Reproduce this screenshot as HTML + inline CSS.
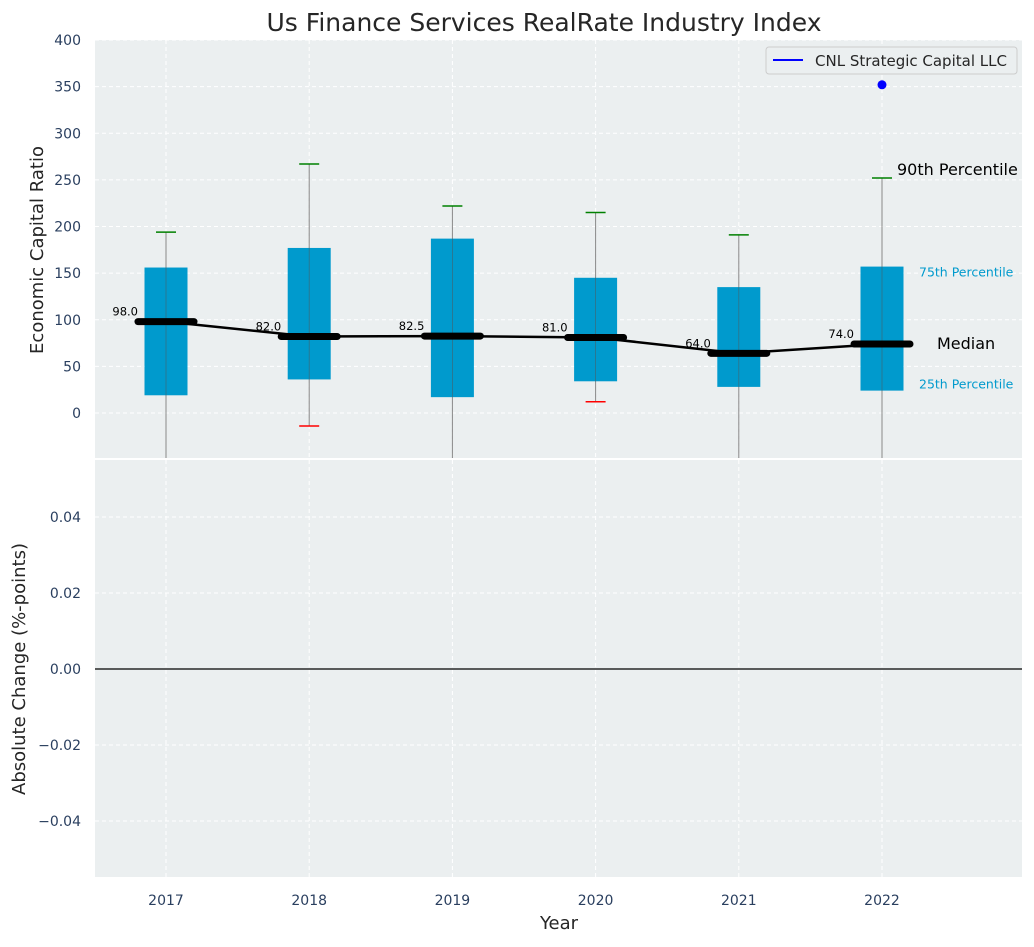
<!DOCTYPE html>
<html><head><meta charset="utf-8"><style>
body{margin:0;background:#fff;font-family:"Liberation Sans","DejaVu Sans",sans-serif}
svg text{font-family:"DejaVu Sans","Liberation Sans",sans-serif}
</style></head><body>
<svg id="chart" width="1034" height="942" xmlns="http://www.w3.org/2000/svg">
<text x="544" y="31" font-size="25" text-anchor="middle" fill="#262626">Us Finance Services RealRate Industry Index</text>
<rect x="95" y="40" width="927" height="418" fill="#ebeff0"/>
<rect x="95" y="460" width="927" height="417" fill="#ebeff0"/>
<g id="grid"></g><g id="marks"></g>
<text transform="translate(43,250) rotate(-90)" font-size="18" text-anchor="middle" fill="#262626">Economic Capital Ratio</text>
<text transform="translate(25,669) rotate(-90)" font-size="18" text-anchor="middle" fill="#262626">Absolute Change (%-points)</text>
<text x="559" y="929" font-size="18" text-anchor="middle" fill="#262626">Year</text>
<g>
<rect x="766" y="47" width="251" height="27" rx="3" fill="#ebeff0" stroke="#ccc"/>
<line x1="773" y1="60" x2="803" y2="60" stroke="#0000ff" stroke-width="2"/>
<text x="815" y="66" font-size="15" fill="#262626">CNL Strategic Capital LLC</text>
</g>
</svg>
<script>
const years=[2017,2018,2019,2020,2021,2022];
const q1=[19,36,17,34,28,24];
const q3=[156,177,187,145,135,157];
const medians=[98,82,82.5,81,64,74];
const p90=[194,267,222,215,191,252];
const p10=[-60,-14,-60,12,-60,-60];
const companyVals=[null,null,null,null,null,352];
const yTicks=[0,50,100,150,200,250,300,350,400];
const y2Ticks=[-0.04,-0.02,0,0.02,0.04];
const ns="http://www.w3.org/2000/svg";
const X=v=>166+(v-2017)*143.2;
const Y=v=>413-v*0.9325;
const Y2=v=>669-v*3800;
function mk(p,t,a){const e=document.createElementNS(ns,t);for(const k in a)e.setAttribute(k,a[k]);p.appendChild(e);return e;}
const grid=document.getElementById('grid'),marks=document.getElementById('marks'),svg=document.getElementById('chart');
yTicks.forEach(t=>{
 const l=mk(grid,'line',{x1:95,x2:1022,y1:Y(t),y2:Y(t),stroke:'#fff','stroke-dasharray':'4,3'});
 
 const tx=mk(svg,'text',{x:81,y:Y(t)+5,'font-size':14,'text-anchor':'end',fill:'#2a3f5f'});tx.textContent=t;
 
});
y2Ticks.forEach(t=>{
 const l=mk(grid,'line',{x1:95,x2:1022,y1:Y2(t),y2:Y2(t),stroke:'#fff','stroke-dasharray':'4,3'});
 
 const tx=mk(svg,'text',{x:81,y:Y2(t)+5,'font-size':14,'text-anchor':'end',fill:'#2a3f5f'});tx.textContent=(t<0?'\u2212':'')+Math.abs(t).toFixed(2);
 
});
years.forEach(y=>{
 [[40,458],[460,877]].forEach(r=>{const l=mk(grid,'line',{x1:X(y),x2:X(y),y1:r[0],y2:r[1],stroke:'#fff','stroke-dasharray':'4,3'});
 });
 const tx=mk(svg,'text',{x:X(y),y:905,'font-size':14,'text-anchor':'middle',fill:'#2a3f5f'});tx.textContent=y;
 
});
const zl=mk(marks,'line',{x1:95,x2:1022,y1:Y2(0),y2:Y2(0),stroke:'#000','stroke-width':1.2});

const clipBot=v=>Math.min(458,Y(v));
years.forEach((y,i)=>{
 const x=X(y);
 const w=mk(marks,'line',{x1:x,x2:x,y1:Y(p90[i]),y2:clipBot(p10[i]),stroke:'#888','stroke-width':1});
 
 const b=mk(marks,'rect',{x:x-21.5,y:Y(q3[i]),width:43,height:Y(q1[i])-Y(q3[i]),fill:'#009acd'});
 
 const w2=mk(marks,'line',{x1:x,x2:x,y1:Y(q3[i]),y2:Y(q1[i]),stroke:'#555','stroke-width':0.8,opacity:0.6});
 
 const c=mk(marks,'line',{x1:x-10,x2:x+10,y1:Y(p90[i]),y2:Y(p90[i]),stroke:'green','stroke-width':1.5});
 
 if(Y(p10[i])<458){const c2=mk(marks,'line',{x1:x-10,x2:x+10,y1:Y(p10[i]),y2:Y(p10[i]),stroke:'red','stroke-width':1.5});
 }
});
const pts=years.map((y,i)=>X(y)+','+Y(medians[i])).join(' ');
const ml=mk(marks,'polyline',{points:pts,fill:'none',stroke:'#000','stroke-width':2.5});

years.forEach((y,i)=>{
 const x=X(y);
 const m=mk(marks,'line',{x1:x-28,x2:x+28,y1:Y(medians[i]),y2:Y(medians[i]),stroke:'#000','stroke-width':7,'stroke-linecap':'round'});
 
 const t=mk(marks,'text',{x:x-28,y:Y(medians[i])-6,'font-size':11.5,'text-anchor':'end',fill:'#000'});t.textContent=medians[i].toFixed(1);
 
 if(companyVals[i]!==null){const d=mk(marks,'circle',{cx:x,cy:Y(companyVals[i]),r:4.5,fill:'#0000ff'});
 }
});
const li=years.length-1,lx=X(years[li]);
[[p90[li],'90th Percentile',16,'#000',lx+15,-3],[q3[li],'75th Percentile',12.5,'#009acd',lx+37,10],[medians[li],'Median',16,'#000',lx+55,5],[q1[li],'25th Percentile',12.5,'#009acd',lx+37,-2]].forEach(a=>{
 const t=mk(marks,'text',{x:a[4],y:Y(a[0])+a[5],'font-size':a[2],fill:a[3]});t.textContent=a[1];
 
});
</script>
</body></html>
